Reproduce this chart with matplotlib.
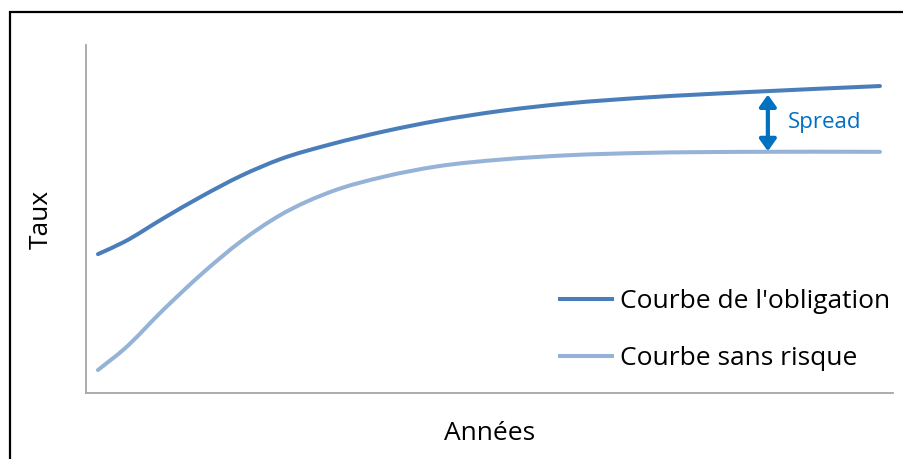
import numpy as np
import matplotlib
matplotlib.use("Agg")
import matplotlib.pyplot as plt
from matplotlib.path import Path
from matplotlib.patches import PathPatch, Rectangle
from matplotlib.lines import Line2D

# data (years, rate in arbitrary units)
years = [0, 1, 2.5, 4, 5.5, 7, 9, 11, 13, 15.5, 18, 21, 25, 30]
bond_curve = [3.99, 4.34, 5.015, 5.66, 6.245, 6.72, 7.16, 7.52, 7.82, 8.11, 8.32, 8.49, 8.65, 8.82]
riskfree_curve = [0.66, 1.26, 2.385, 3.435, 4.365, 5.115, 5.80, 6.22, 6.51, 6.71, 6.83, 6.90, 6.93, 6.93]
labels = ["Courbe de l'obligation", "Courbe sans risque"]
spread_year = 25.7

BOND_COLOR = "#4A7EBB"
RF_COLOR = "#95B3D7"
SPREAD_COLOR = "#0070C0"
FONT = "Open Sans"


def smooth_path(x, y):
    # hermite -> bezier, smoothed line through the points
    x = np.asarray(x, float)
    y = np.asarray(y, float)
    m = np.gradient(y, x)
    verts = [(x[0], y[0])]
    codes = [Path.MOVETO]
    for i in range(len(x) - 1):
        h = x[i + 1] - x[i]
        verts += [(x[i] + h / 3, y[i] + m[i] * h / 3),
                  (x[i + 1] - h / 3, y[i + 1] - m[i + 1] * h / 3),
                  (x[i + 1], y[i + 1])]
        codes += [Path.CURVE4] * 3
    return Path(verts, codes)


fig = plt.figure(figsize=(9.04, 4.59), dpi=100)
ax = fig.add_axes([0.0951, 0.1438, 0.8927, 0.7582])

for ys, col in [(bond_curve, BOND_COLOR), (riskfree_curve, RF_COLOR)]:
    patch = PathPatch(smooth_path(years, ys), facecolor="none", edgecolor=col,
                      lw=2.9, capstyle="round", joinstyle="round")
    ax.add_patch(patch)

ax.set_xlim(-0.46, 30.5)
ax.set_ylim(0, 10)

for side in ["top", "right"]:
    ax.spines[side].set_visible(False)
for side in ["left", "bottom"]:
    ax.spines[side].set_color("#A6A6A6")
    ax.spines[side].set_linewidth(1.3)
ax.set_xticks([])
ax.set_yticks([])

ax.set_xlabel("Années", fontsize=19, family=FONT, labelpad=20)
ax.set_ylabel("Taux", fontsize=19, family=FONT, labelpad=23)

# spread arrow between the two curves
y_top = np.interp(spread_year, years, bond_curve) - 0.1
y_bot = np.interp(spread_year, years, riskfree_curve) + 0.02
ax.annotate("", xy=(spread_year, y_top), xytext=(spread_year, y_bot),
            arrowprops=dict(arrowstyle="<|-|>,head_length=0.7,head_width=0.5",
                            color=SPREAD_COLOR, lw=3, shrinkA=0, shrinkB=0))
ax.text(spread_year + 0.75, (y_top + y_bot) / 2, "Spread", color=SPREAD_COLOR,
        fontsize=16, family=FONT, va="center", ha="left")

handles = [Line2D([], [], color=BOND_COLOR, lw=2.9),
           Line2D([], [], color=RF_COLOR, lw=2.9)]
leg = ax.legend(handles, labels, loc="upper left", bbox_to_anchor=(560 / 904, 1 - 289 / 459),
                bbox_transform=fig.transFigure, frameon=False, handlelength=1.97,
                handletextpad=0.3, labelspacing=1.22, borderpad=0, borderaxespad=0,
                prop={"family": FONT, "size": 19})

# black outer frame, cut at right and bottom like the source image
fig.patches.append(Rectangle((10 / 904, -0.1), 1.2, 1 - 12 / 459 + 0.1,
                             transform=fig.transFigure, fill=False,
                             edgecolor="black", lw=1.6))

fig.savefig("out.png", dpi=100)
